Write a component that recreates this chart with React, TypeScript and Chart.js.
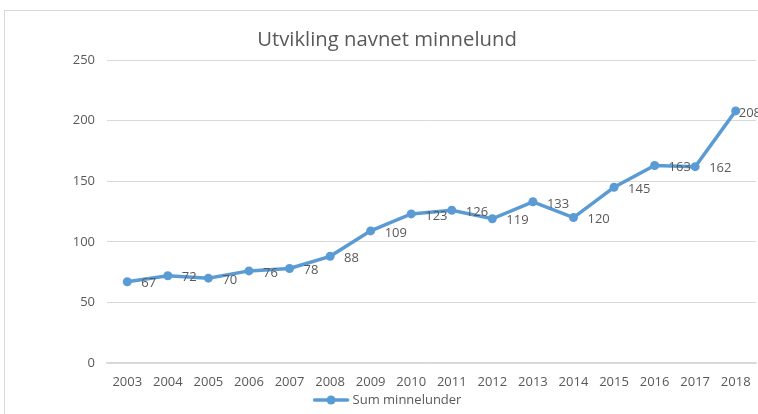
import React, { useEffect, useRef } from "react";
import { Chart, registerables } from "chart.js";

Chart.register(...registerables);

const TITLE = "Utvikling navnet minnelund";
const SERIES_LABEL = "Sum minnelunder";
const YEARS = ["2003", "2004", "2005", "2006", "2007", "2008", "2009", "2010", "2011", "2012", "2013", "2014", "2015", "2016", "2017", "2018"];
const VALUES = [67, 72, 70, 76, 78, 88, 109, 123, 126, 119, 133, 120, 145, 163, 162, 208];
const Y_MIN = 0;
const Y_MAX = 250;
const Y_STEP = 50;

const FONT = "'Open Sans', 'Noto Sans', sans-serif";
const TEXT = "#595959";
const BLUE = "#5B9BD5";
const GRID = "#D9D9D9";

const decorPlugin = {
  id: "decor",
  afterDatasetsDraw(chart: any) {
    const ctx = chart.ctx;
    const meta = chart.getDatasetMeta(0);
    const ds = chart.data.datasets[0];
    ctx.save();
    ctx.font = `13px ${FONT}`;
    ctx.fillStyle = TEXT;
    ctx.textBaseline = "middle";
    ctx.textAlign = "left";
    meta.data.forEach((pt: any, i: number) => {
      const txt = String(ds.data[i]);
      const w = ctx.measureText(txt).width;
      let x = pt.x + 14;
      if (x + w > chart.width - 8) x = chart.width - 8 - w;
      ctx.fillText(txt, x, pt.y + 2);
    });
    ctx.restore();
  },
  afterDraw(chart: any) {
    const ctx = chart.ctx;
    ctx.save();
    // title
    ctx.font = `20.3px ${FONT}`;
    ctx.fillStyle = TEXT;
    ctx.textAlign = "center";
    ctx.textBaseline = "middle";
    ctx.fillText(TITLE, chart.width / 2, 29);
    // legend
    ctx.font = `13px ${FONT}`;
    const label = chart.data.datasets[0].label;
    const tw = ctx.measureText(label).width;
    const lineW = 33;
    const gap = 5;
    const total = lineW + gap + tw;
    const x0 = chart.width / 2 - total / 2 + 1;
    const y = 389;
    ctx.strokeStyle = BLUE;
    ctx.lineWidth = 3.5;
    ctx.lineCap = "round";
    ctx.beginPath();
    ctx.moveTo(x0, y);
    ctx.lineTo(x0 + lineW, y);
    ctx.stroke();
    ctx.fillStyle = BLUE;
    ctx.beginPath();
    ctx.arc(x0 + lineW / 2, y, 4.5, 0, Math.PI * 2);
    ctx.fill();
    ctx.fillStyle = TEXT;
    ctx.textAlign = "left";
    ctx.fillText(label, x0 + lineW + gap, y);
    ctx.restore();
  },
};

export default function App() {
  const ref = useRef<HTMLCanvasElement | null>(null);
  useEffect(() => {
    if (!ref.current) return;
    const chart = new Chart(ref.current, {
      type: "line",
      data: {
        labels: YEARS,
        datasets: [
          {
            label: SERIES_LABEL,
            data: VALUES,
            borderColor: BLUE,
            backgroundColor: BLUE,
            borderWidth: 3.5,
            pointRadius: 4.5,
            pointBorderWidth: 0,
            pointBackgroundColor: BLUE,
            tension: 0,
          },
        ],
      },
      plugins: [decorPlugin],
      options: {
        animation: false,
        responsive: false,
        maintainAspectRatio: false,
        layout: { padding: { top: 49, left: 0, right: 13, bottom: 22 } },
        plugins: {
          legend: { display: false },
          title: { display: false },
          tooltip: { enabled: false },
        },
        scales: {
          x: {
            offset: true,
            grid: { display: false, drawTicks: false },
            border: { display: true, color: GRID, width: 1.5 },
            ticks: { color: TEXT, font: { family: FONT, size: 13 }, padding: 11, maxRotation: 0, autoSkip: false },
            afterFit(scale: any) {
              scale.height = 30;
            },
          },
          y: {
            min: Y_MIN,
            max: Y_MAX,
            ticks: { stepSize: Y_STEP, color: TEXT, font: { family: FONT, size: 13 }, padding: 12 },
            grid: { color: GRID, lineWidth: 1, drawTicks: false },
            border: { display: false },
            afterFit(scale: any) {
              scale.width = 102;
            },
          },
        },
      },
    });
    return () => chart.destroy();
  }, []);

  return (
    <div style={{ position: "fixed", left: 0, top: 0, width: 758, height: 414, overflow: "hidden", background: "#fff" }}>
      <div style={{ position: "absolute", left: 4, top: 10, width: 764, height: 404, border: `1px solid ${GRID}` }}>
        <canvas ref={ref} width={764} height={404} style={{ display: "block" }} />
      </div>
    </div>
  );
}
